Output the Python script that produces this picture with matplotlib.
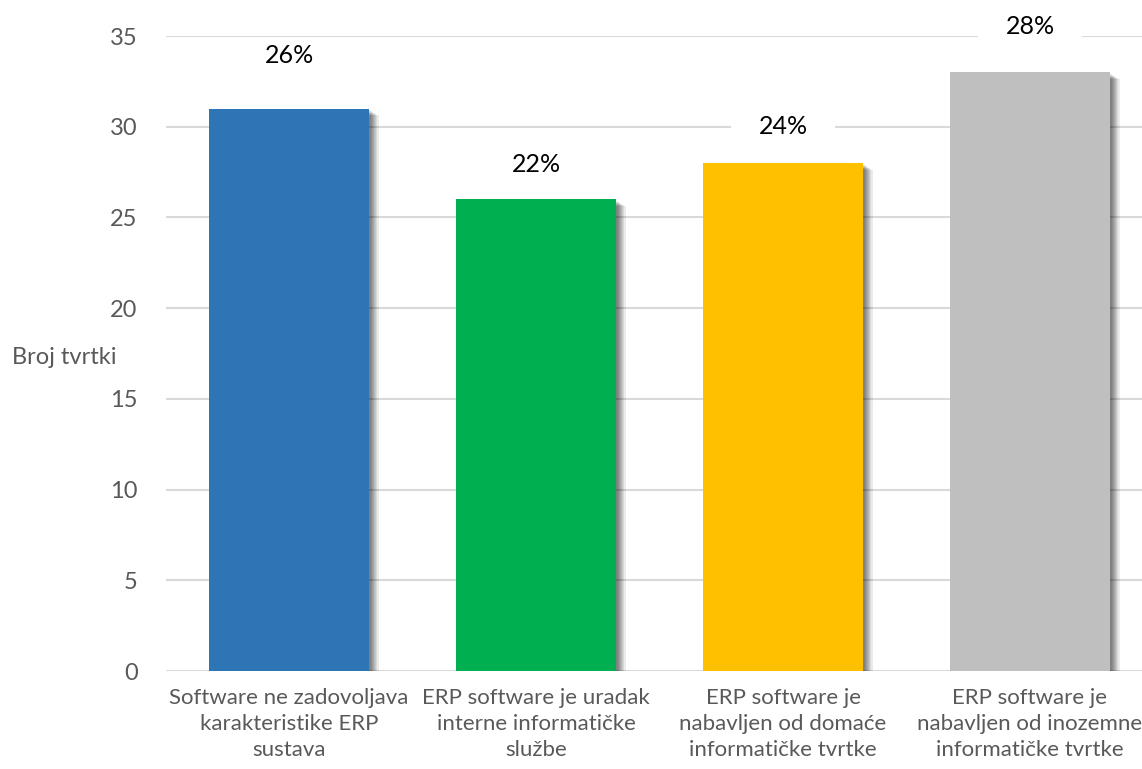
import matplotlib
matplotlib.use("Agg")
import matplotlib.pyplot as plt
from matplotlib.patches import Rectangle
import numpy as np

categories = [
    "Software ne zadovoljava\nkarakteristike ERP\nsustava",
    "ERP software je uradak\ninterne informatičke\nslužbe",
    "ERP software je\nnabavljen od domaće\ninformatičke tvrtke",
    "ERP software je\nnabavljen od inozemne\ninformatičke tvrtke",
]
counts = [31, 26, 28, 33]
shares = ["26%", "22%", "24%", "28%"]
label_heights = [33.95, 27.9, 30.0, 35.5]
colors = ["#2E75B6", "#00B050", "#FFC000", "#BFBFBF"]
y_ticks = [0, 5, 10, 15, 20, 25, 30, 35]

plt.rcParams["font.family"] = ["Lato", "DejaVu Sans"]

W, H = 1142, 769
fig = plt.figure(figsize=(W / 100, H / 100), dpi=100)
ax_left, ax_right, ax_top, ax_bot = 165.5, 1153.5, 36, 671
ax = fig.add_axes([ax_left / W, (H - ax_bot) / H,
                   (ax_right - ax_left) / W, (ax_bot - ax_top) / H])

x = np.arange(len(categories))
width = 0.65

# soft drop shadow behind each bar
for k in range(8):
    dx = 0.006 + 0.0045 * k
    dy = -0.1 - 0.04 * k
    ax.bar(x + dx, np.array(counts) + dy, width=width, color="black",
           alpha=0.08, zorder=2, linewidth=0)

ax.bar(x, counts, width=width, color=colors, zorder=3, linewidth=0)

# value labels on white boxes that interrupt the gridlines
box_w, box_h = 0.42, 1.5
for xi, lab, hy in zip(x, shares, label_heights):
    ax.add_patch(Rectangle((xi - box_w / 2, hy - box_h / 2), box_w, box_h,
                           facecolor="white", edgecolor="none", zorder=4,
                           clip_on=False))
    ax.text(xi, hy, lab, ha="center", va="center", fontsize=18, color="black",
            zorder=5, clip_on=False)

ax.set_xlim(-0.5, len(categories) - 0.5)
ax.set_ylim(0, 35)
ax.set_yticks(y_ticks)
ax.set_xticks(x)
ax.set_xticklabels(categories, fontsize=16, color="#595959", linespacing=1.38)
ax.tick_params(axis="both", length=0, labelcolor="#595959")
ax.tick_params(axis="y", pad=20, labelsize=17)
ax.tick_params(axis="x", pad=12)
ax.grid(axis="y", color="#D9D9D9", linewidth=1.5, zorder=0)
ax.set_axisbelow(True)
for s in ax.spines.values():
    s.set_visible(False)

fig.text(64 / W, 1 - 358 / H, "Broj tvrtki", ha="center", va="center",
         fontsize=17, color="#595959")

fig.savefig("out.png", dpi=100, facecolor="white")
